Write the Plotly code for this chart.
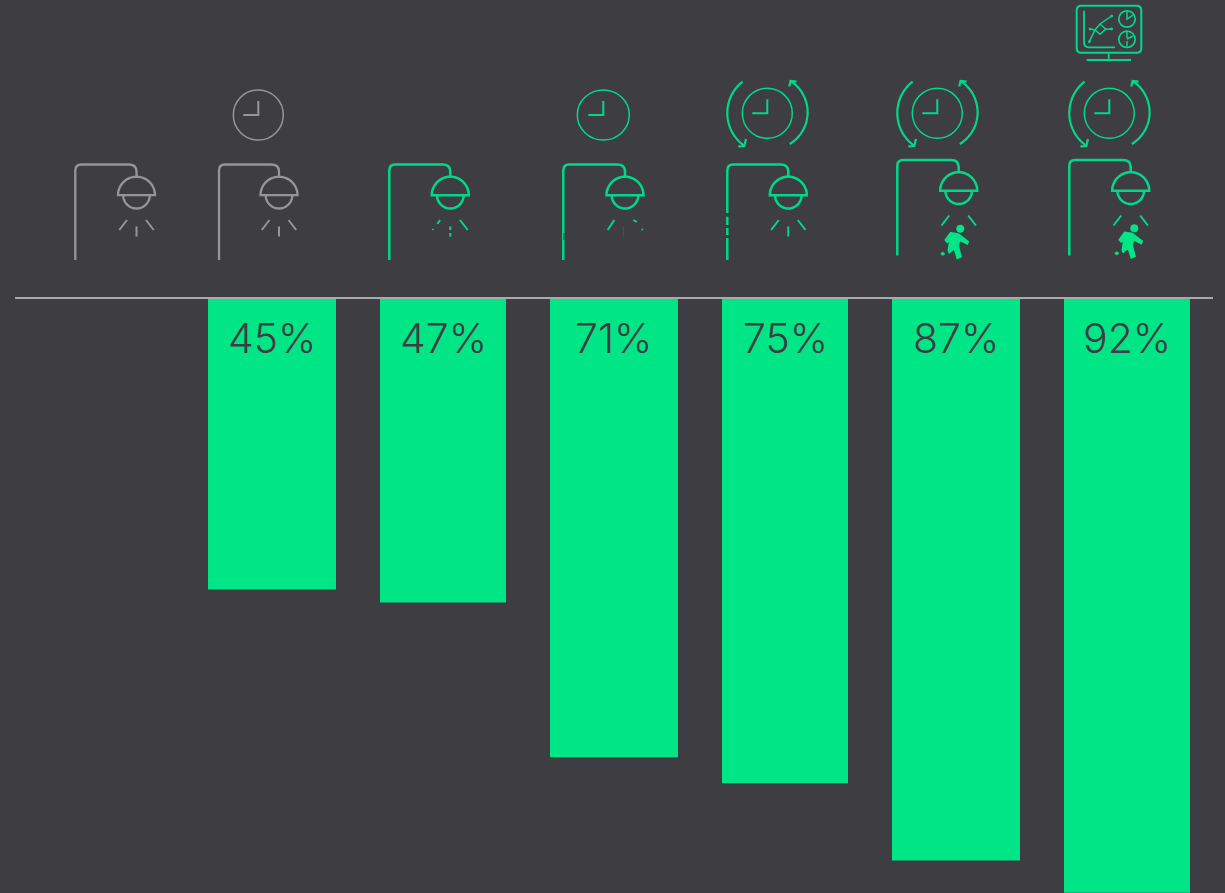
import math
import plotly.graph_objects as go

W, H = 1225, 893
BG = "#3e3d42"
BAR = "#00e687"
LINE = "#00d98a"
GREY = "#969696"
INK = "#3e3d42"

positions = [0, 1, 2, 3, 4, 5, 6]
values = [None, 45, 47, 71, 75, 87, 92]
# 0% sits 299 px down, about 6.455 px per percent, 171 px between bars
x_range = [-101 / 171, (W - 101) / 171]
y_range = [(H - 299) / 6.455, -299 / 6.455]
bar_widths = [128 / 171, 128 / 171, 126 / 171, 128 / 171, 126 / 171, 128 / 171, 126 / 171]

shapes = []


def X(x):
    return x / W


def Y(y):
    return 1 - y / H


def fmt(cmds):
    out = []
    for c in cmds:
        if isinstance(c, str):
            out.append(c)
        else:
            out.append(f"{X(c[0]):.5f},{Y(c[1]):.5f}")
    return " ".join(out)


def path(cmds, color, width=2.0, fill=None):
    shapes.append(dict(type="path", xref="paper", yref="paper", path=fmt(cmds),
                       line=dict(color=color, width=width),
                       fillcolor=fill if fill else "rgba(0,0,0,0)", layer="above"))


def seg(a, b, color, width=2.0):
    path(["M", a, "L", b], color, width)


def ell(cx, cy, rx, ry, color, width=1.5):
    shapes.append(dict(type="circle", xref="paper", yref="paper",
                       x0=X(cx - rx), x1=X(cx + rx), y0=Y(cy + ry), y1=Y(cy - ry),
                       line=dict(color=color, width=width), layer="above"))


def arc(cx, cy, r, a0, a1, n=32):
    pts = []
    for i in range(n + 1):
        a = math.radians(a0 + (a1 - a0) * i / n)
        pts.append((cx + r * math.cos(a), cy + r * math.sin(a)))
    return pts


def poly(pts, color, width=2.0, fill=None, close=False):
    cmds = ["M", pts[0]]
    for p in pts[1:]:
        cmds += ["L", p]
    if close:
        cmds.append("Z")
    path(cmds, color, width, fill)


def arc3(a, m, b, n=40):
    """Polyline on the circle through three points."""
    ax, ay = a
    bx, by = m
    cx, cy = b
    d = 2 * (ax * (by - cy) + bx * (cy - ay) + cx * (ay - by))
    ux = ((ax**2 + ay**2) * (by - cy) + (bx**2 + by**2) * (cy - ay) + (cx**2 + cy**2) * (ay - by)) / d
    uy = ((ax**2 + ay**2) * (cx - bx) + (bx**2 + by**2) * (ax - cx) + (cx**2 + cy**2) * (bx - ax)) / d
    r = math.hypot(ax - ux, ay - uy)
    t0 = math.atan2(ay - uy, ax - ux)
    dm = (math.atan2(by - uy, bx - ux) - t0) % (2 * math.pi)
    de = (math.atan2(cy - uy, cx - ux) - t0) % (2 * math.pi)
    if dm > de:
        de -= 2 * math.pi
    return [(ux + r * math.cos(t0 + de * i / n), uy + r * math.sin(t0 + de * i / n))
            for i in range(n + 1)]


def shower(px, top, head, color, rays=True, center=True, width=2.5):
    bottom = top + 95.5
    hy = top + 30.7
    path(["M", (px, bottom), "L", (px, top + 6), "Q", (px, top), (px + 6, top),
          "L", (head - 8, top), "Q", (head, top), (head, top + 7), "L", (head, top + 12)],
         color, width)
    poly(arc(head, hy, 18.5, 180, 360) + [(head - 18.5, hy)], color, width, close=True)
    poly(arc(head, hy, 13.3, 0, 180), color, width)
    if rays:
        seg((head - 9.5, top + 55.5), (head - 17.2, top + 65.5), color, 2)
        seg((head + 9.5, top + 55.5), (head + 17.2, top + 65.5), color, 2)
    if center:
        seg((head, top + 62), (head, top + 72), color, 2)


def clock(cx, cy, color, rx=25, ry=25):
    ell(cx, cy, rx, ry, color)
    poly([(cx, cy - 14), (cx, cy), (cx - 15, cy)], color, 2)


def rotate_arrows(cx, cy, color):
    poly(arc3((cx - 24.7, cy - 31.7), (cx - 40, cy), (cx - 23, cy + 32.5)), color, 2.2)
    poly([(cx - 21.3, cy + 25.7), (cx - 23, cy + 32.7), (cx - 29, cy + 33)], color, 2.2)
    poly(arc3((cx + 22.5, cy + 30.7), (cx + 40.3, cy), (cx + 23.3, cy - 32.3)), color, 2.2)
    poly([(cx + 29.3, cy - 31.7), (cx + 23.3, cy - 32.3), (cx + 22, cy - 26.7)], color, 2.2)


def person(hx, hy, color):
    ell(hx, hy, 3.8, 3.8, color, 0.5)
    shapes[-1]["fillcolor"] = color
    rel = [(-9.7, 4), (-2, 5.3), (8, 13), (7, 15.3), (-1, 11.3), (-2, 17.3), (0.7, 28),
           (-3, 29.7), (-6, 19.7), (-11, 24), (-12, 22), (-11, 15.3), (-10.3, 11.3), (-13, 13.7),
           (-15, 11.3)]
    poly([(hx + a, hy + b) for a, b in rel], color, 1.6, fill=color, close=True)
    ell(hx - 17.5, hy + 25, 1.8, 1.5, color, 0.5)
    shapes[-1]["fillcolor"] = color


def monitor(color):
    x0, x1, y0, y1, r = 1076.7, 1141.3, 5.7, 52.7, 4.5
    path(["M", (x0 + r, y0), "L", (x1 - r, y0), "Q", (x1, y0), (x1, y0 + r), "L", (x1, y1 - r),
          "Q", (x1, y1), (x1 - r, y1), "L", (x0 + r, y1), "Q", (x0, y1), (x0, y1 - r),
          "L", (x0, y0 + r), "Q", (x0, y0), (x0 + r, y0), "Z"], color, 2)
    seg((1108.7, y1), (1108.7, 60), color, 1.8)
    seg((1086.7, 60), (1131, 60), color, 2)
    path(["M", (1084, 10.7), "L", (1084, 42), "Q", (1084, 47.3), (1089, 47.3), "L", (1115, 47.3)], color, 1.8)
    poly([(1089.3, 41.7), (1095, 30), (1100, 24), (1111.7, 16)], color, 1.5)
    poly([(1090, 29), (1095, 30), (1100, 34.3), (1105.7, 29.3), (1111.7, 29)], color, 1.5)
    seg((1100, 24), (1105.7, 29.3), color, 1.5)
    for p in [(1089.3, 41.7), (1111.7, 16), (1090, 29), (1111.7, 29)]:
        ell(p[0], p[1], 1, 1, color, 1)
        shapes[-1]["fillcolor"] = color
    ell(1127, 19, 8.2, 8.2, color, 1.7)
    poly([(1127, 12), (1127, 19), (1133, 15)], color, 1.5)
    ell(1127, 39.3, 8.2, 8.2, color, 1.7)
    seg((1127, 32), (1127, 38), color, 1.5)
    seg((1127, 41), (1127, 46.5), color, 1.5)
    seg((1127, 39), (1133, 36), color, 1.5)


# axis rule
shapes.append(dict(type="line", xref="paper", yref="paper", x0=X(15), x1=X(1213), y0=Y(298), y1=Y(298),
                   line=dict(color="#a9a9a9", width=2), layer="above"))

# grey icons
shower(75.3, 164.5, 136.5, GREY, width=2.3)
shower(219, 164.5, 279, GREY, width=2.3)
clock(258.3, 115, GREY)

# level 3: broken rays
shower(389.3, 164.5, 450.3, LINE, rays=False, center=False)
seg((440, 220), (437.5, 224), LINE, 2)
seg((433.3, 229), (432.5, 230), LINE, 2)
seg((460, 220), (467.7, 230), LINE, 2)
seg((450.3, 226.5), (450.3, 230), LINE, 2)
seg((450.3, 233), (450.3, 236.7), LINE, 2)

# level 4
shower(563.3, 164.5, 625, LINE, rays=False, center=False)
seg((614.3, 220), (607.7, 230), LINE, 2)
seg((633.3, 220), (636.7, 222), LINE, 2)
seg((641.7, 229), (642.7, 230), LINE, 2)
seg((623.3, 226.7), (623.3, 236.7), "#3a5a55", 1)
seg((563.9, 233), (563.9, 240), BG, 1)
clock(603.3, 115, LINE, rx=26, ry=25)

# level 5: broken pole
shower(727.3, 164.5, 788.3, LINE)
for y0, y1 in [(213, 216.7), (225, 228), (235, 238)]:
    seg((727.3, y0), (727.3, y1), BG, 3.5)
clock(767.3, 113.3, LINE)
rotate_arrows(767.3, 113.3, LINE)

# level 6
shower(897.3, 160, 958.7, LINE, center=False)
clock(937.3, 113.3, LINE)
rotate_arrows(937.3, 113.3, LINE)
person(960.3, 228.7, BAR)

# level 7
shower(1069.3, 160, 1130.7, LINE, center=False)
clock(1109.3, 113.3, LINE)
rotate_arrows(1109.3, 113.3, LINE)
person(1134.3, 228.3, BAR)
monitor(LINE)

fig = go.Figure(go.Bar(x=positions, y=values, width=bar_widths, marker=dict(color=BAR, line=dict(width=0)),
                       hoverinfo="skip"))

annotations = [dict(x=p, y=0, xref="x", yref="y", text=f"{v}%", showarrow=False, yanchor="middle",
                    yshift=-39, font=dict(family="Inter", size=41, color=INK, weight=350))
               for p, v in zip(positions, values) if v is not None]

fig.update_layout(width=W, height=H, margin=dict(l=0, r=0, t=0, b=0), paper_bgcolor=BG, plot_bgcolor=BG,
                  showlegend=False, shapes=shapes, annotations=annotations,
                  xaxis=dict(range=x_range, visible=False, fixedrange=True),
                  yaxis=dict(range=y_range, visible=False, fixedrange=True))

fig.write_html("out.html", config=dict(displayModeBar=False),
               post_script="document.body.style.margin='0';document.body.style.background='#3e3d42';")
